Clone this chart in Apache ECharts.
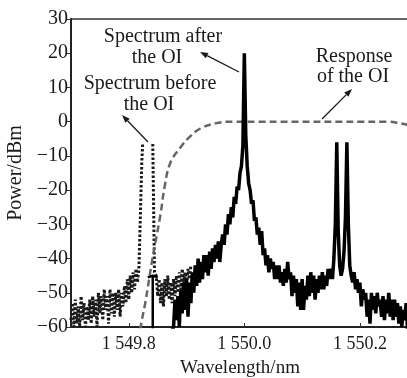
<!DOCTYPE html>
<html>
<head>
<meta charset="utf-8">
<script src="https://cdn.jsdelivr.net/npm/echarts@6/dist/echarts.min.js"></script>
<style>
  html, body { margin: 0; padding: 0; background: #fff; }
  #chart { width: 407px; height: 378px; }
</style>
</head>
<body>
<div id="chart"></div>
<script>
// axis ticks
const xTicks = [1549.8, 1550.0, 1550.2];
const xTickLabels = ['1 549.8', '1 550.0', '1 550.2'];

// spectrum before the OI (dotted), [wavelength nm, power dBm]
const beforeSpectrum = [
    [1549.7000, -58], [1549.7025, -53], [1549.7050, -60], [1549.7075, -52], [1549.7100, -59],
    [1549.7125, -54], [1549.7150, -60], [1549.7175, -51], [1549.7200, -58], [1549.7225, -53],
    [1549.7250, -60], [1549.7275, -54], [1549.7300, -58], [1549.7325, -52], [1549.7350, -59],
    [1549.7375, -51], [1549.7400, -57], [1549.7425, -52], [1549.7450, -60], [1549.7475, -50],
    [1549.7500, -56], [1549.7525, -51], [1549.7550, -58], [1549.7575, -49], [1549.7600, -55],
    [1549.7625, -51], [1549.7650, -59], [1549.7675, -49], [1549.7700, -56], [1549.7725, -50],
    [1549.7750, -57], [1549.7775, -50], [1549.7800, -55], [1549.7825, -49], [1549.7850, -57],
    [1549.7875, -50], [1549.7900, -54], [1549.7925, -48], [1549.7950, -53], [1549.7975, -46],
    [1549.8000, -52], [1549.8025, -45], [1549.8050, -50], [1549.8075, -44], [1549.8100, -49],
    [1549.8125, -43], [1549.8150, -47], [1549.8175, -43], [1549.8200, -28], [1549.8225, -12],
    [1549.8240, -6.5], [1549.8330, null],
    [1549.8415, -6.5], [1549.8430, -25], [1549.8445, -44], [1549.8475, -45], [1549.8500, -51],
    [1549.8525, -46], [1549.8550, -53], [1549.8575, -47], [1549.8600, -54], [1549.8625, -46],
    [1549.8650, -51], [1549.8675, -45], [1549.8700, -52], [1549.8725, -47], [1549.8750, -53],
    [1549.8775, -46], [1549.8800, -51], [1549.8825, -45], [1549.8850, -50], [1549.8875, -44],
    [1549.8900, -49], [1549.8925, -43], [1549.8950, -48], [1549.8975, -44], [1549.9000, -48],
    [1549.9025, -43], [1549.9050, -46], [1549.9075, -42]
];

// filter response of the OI (dashed)
const filterResponse = [
    [1549.8180, -64], [1549.8205, -60], [1549.8285, -53], [1549.8405, -40.5], [1549.8550, -27],
    [1549.8620, -19], [1549.8720, -12], [1549.8900, -7.4], [1549.9050, -4.5], [1549.9240, -2],
    [1549.9500, -0.5], [1549.9800, 0], [1550.2500, 0], [1550.2650, -0.3], [1550.2850, -1]
];

// leftover line of the blocked carrier (solid, thin)
const residualLine = [
    [1549.8330, -45.5], [1549.8415, -45], [1549.8415, -62], [1549.8415, -45], [1549.8500, -45.5]
];

// spectrum after the OI (solid)
const afterSpectrum = [
    [1549.8750, -61], [1549.8775, -60], [1549.8800, -52], [1549.8825, -58], [1549.8850, -51],
    [1549.8875, -60], [1549.8900, -49], [1549.8925, -56], [1549.8950, -47], [1549.8975, -55],
    [1549.9000, -46], [1549.9025, -57], [1549.9050, -47], [1549.9075, -53], [1549.9100, -44],
    [1549.9125, -50], [1549.9150, -42], [1549.9175, -48], [1549.9200, -40], [1549.9225, -47],
    [1549.9250, -41], [1549.9275, -46], [1549.9300, -39], [1549.9325, -44], [1549.9350, -39],
    [1549.9375, -45], [1549.9400, -38], [1549.9425, -43], [1549.9450, -37], [1549.9475, -41],
    [1549.9500, -36], [1549.9525, -40], [1549.9550, -35], [1549.9575, -41], [1549.9600, -36],
    [1549.9625, -33], [1549.9650, -36], [1549.9675, -30], [1549.9700, -33], [1549.9725, -27],
    [1549.9750, -30], [1549.9775, -25], [1549.9800, -28], [1549.9825, -22], [1549.9850, -24],
    [1549.9875, -19], [1549.9900, -20], [1549.9925, -15], [1549.9950, -13], [1549.9975, -7],
    [1550.0000, 20], [1550.0025, -4], [1550.0050, -13], [1550.0075, -18], [1550.0100, -20],
    [1550.0125, -24], [1550.0150, -23], [1550.0175, -29], [1550.0200, -28], [1550.0225, -33],
    [1550.0250, -31], [1550.0275, -36], [1550.0300, -32], [1550.0325, -39], [1550.0350, -37],
    [1550.0375, -42], [1550.0400, -39], [1550.0425, -44], [1550.0450, -40], [1550.0475, -43],
    [1550.0500, -41], [1550.0525, -46], [1550.0550, -42], [1550.0575, -46], [1550.0600, -42],
    [1550.0625, -47], [1550.0650, -44], [1550.0675, -48], [1550.0700, -43], [1550.0725, -47],
    [1550.0750, -41], [1550.0775, -46], [1550.0800, -44], [1550.0825, -51], [1550.0850, -45],
    [1550.0875, -50], [1550.0900, -46], [1550.0925, -54], [1550.0950, -47], [1550.0975, -55],
    [1550.1000, -46], [1550.1025, -55], [1550.1050, -48], [1550.1075, -52], [1550.1100, -45],
    [1550.1125, -51], [1550.1150, -44], [1550.1175, -50], [1550.1200, -45], [1550.1225, -52],
    [1550.1250, -46], [1550.1275, -50], [1550.1300, -45], [1550.1325, -49], [1550.1350, -44],
    [1550.1375, -49], [1550.1400, -45], [1550.1425, -48], [1550.1450, -43], [1550.1475, -46],
    [1550.1500, -43], [1550.1525, -46], [1550.1550, -40], [1550.1575, -30], [1550.1600, -6],
    [1550.1625, -32], [1550.1650, -42], [1550.1675, -45], [1550.1700, -43], [1550.1725, -38],
    [1550.1750, -28], [1550.1775, -6], [1550.1800, -30], [1550.1825, -42], [1550.1850, -45],
    [1550.1875, -47], [1550.1900, -44], [1550.1925, -49], [1550.1950, -46], [1550.1975, -50],
    [1550.2000, -47], [1550.2025, -54], [1550.2050, -49], [1550.2075, -52], [1550.2100, -50],
    [1550.2125, -57], [1550.2150, -52], [1550.2175, -59], [1550.2200, -50], [1550.2225, -55],
    [1550.2250, -51], [1550.2275, -56], [1550.2300, -50], [1550.2325, -54], [1550.2350, -52],
    [1550.2375, -57], [1550.2400, -51], [1550.2425, -58], [1550.2450, -52], [1550.2475, -56],
    [1550.2500, -50], [1550.2525, -57], [1550.2550, -52], [1550.2575, -58], [1550.2600, -52],
    [1550.2625, -57], [1550.2650, -53], [1550.2675, -59], [1550.2700, -54], [1550.2725, -60],
    [1550.2750, -55], [1550.2775, -58], [1550.2800, -53], [1550.2825, -61]
];

const FONT = 'Liberation Serif';
const INK = '#1a1a1a';

// annotation text and arrow helpers
function label(text, x, y) {
    return {
        type: 'text', x: x, y: y,
        style: { text: text, fill: INK, font: '20px "' + FONT + '"', align: 'center', verticalAlign: 'middle' }
    };
}

function arrow(x1, y1, x2, y2) {
    const a = Math.atan2(y2 - y1, x2 - x1);
    const len = 8, half = 3;
    const bx = x2 - len * Math.cos(a), by = y2 - len * Math.sin(a);
    return {
        type: 'group',
        children: [
            { type: 'line', shape: { x1: x1, y1: y1, x2: bx, y2: by }, style: { stroke: INK, lineWidth: 1.3 } },
            {
                type: 'polygon',
                shape: { points: [[x2, y2], [bx + half * Math.sin(a), by - half * Math.cos(a)], [bx - half * Math.sin(a), by + half * Math.cos(a)]] },
                style: { fill: INK }
            }
        ]
    };
}

function xLabel(v) {
    const i = xTicks.findIndex(t => Math.abs(t - v) < 1e-6);
    return i >= 0 ? xTickLabels[i] : '';
}

const chart = echarts.init(document.getElementById('chart'));

chart.setOption({
    animation: false,
    backgroundColor: '#fff',
    grid: {
        left: 71, right: -2, top: 19, bottom: 51,
        outerBoundsMode: 'none',
        show: true, borderColor: '#333', borderWidth: 1.5
    },
    xAxis: {
        type: 'value',
        min: 1549.70,
        max: 1550.285,
        name: 'Wavelength/nm',
        nameLocation: 'middle',
        nameGap: 32,
        nameTextStyle: { fontFamily: FONT, fontSize: 19, color: INK },
        axisLine: { onZero: false, lineStyle: { color: '#222', width: 2 } },
        axisTick: { inside: true, length: 4, customValues: xTicks, lineStyle: { color: '#333' } },
        axisLabel: {
            customValues: xTicks,
            formatter: v => xLabel(v),
            margin: 8,
            fontFamily: FONT, fontSize: 18, color: INK
        },
        splitLine: { show: false }
    },
    yAxis: {
        type: 'value',
        min: -60,
        max: 30,
        interval: 10,
        name: 'Power/dBm',
        nameLocation: 'middle',
        nameRotate: 90,
        nameGap: 38,
        nameTextStyle: { fontFamily: FONT, fontSize: 20, color: INK },
        axisLine: { lineStyle: { color: '#222', width: 2 } },
        axisTick: { length: 5, lineStyle: { color: '#333' } },
        axisLabel: {
            margin: 3,
            formatter: v => (v < 0 ? '\u2212' + Math.abs(v) : String(v)),
            fontFamily: FONT, fontSize: 20, color: INK
        },
        splitLine: { show: false }
    },
    series: [
        {
            name: 'Spectrum before the OI',
            type: 'line',
            data: beforeSpectrum,
            symbol: 'none',
            connectNulls: false,
            lineStyle: { color: '#1a1a1a', width: 3, type: [2.5, 2] }
        },
        {
            name: 'Response of the OI',
            type: 'line',
            data: filterResponse,
            symbol: 'none',
            smooth: 0.4,
            lineStyle: { color: '#666', width: 2.5, type: [7, 4] }
        },
        {
            name: 'Residual',
            type: 'line',
            data: residualLine,
            symbol: 'none',
            lineStyle: { color: '#000', width: 2.5 }
        },
        {
            name: 'Spectrum after the OI',
            type: 'line',
            data: afterSpectrum,
            symbol: 'none',
            lineStyle: { color: '#000', width: 3.5 }
        }
    ],
    graphic: [
        label('Spectrum after', 163, 37),
        label('the OI', 157, 58),
        label('Spectrum before', 150, 84),
        label('the OI', 149, 105),
        label('Response', 354, 57),
        label('of the OI', 353, 77),
        arrow(239, 72, 200, 52),
        arrow(148, 142, 122, 115),
        arrow(322, 119, 352, 89)
    ]
});
</script>
</body>
</html>
